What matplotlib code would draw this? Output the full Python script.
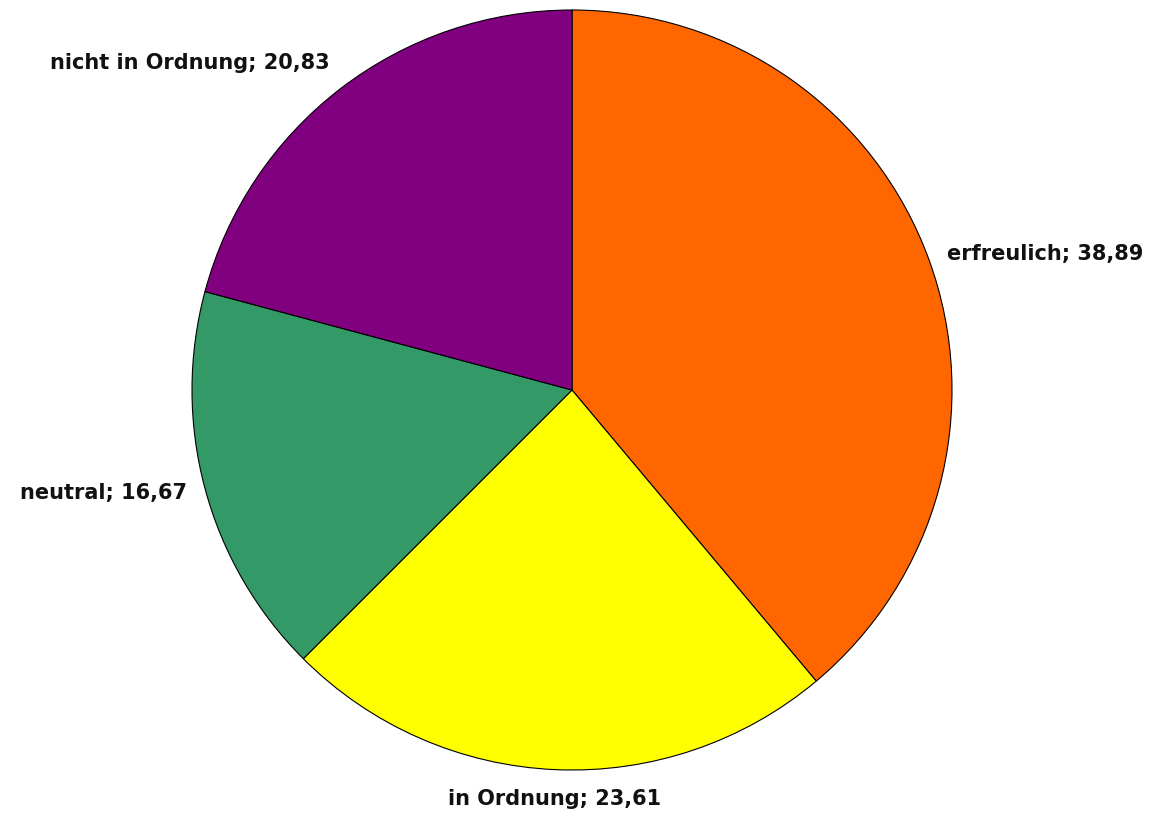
import numpy as np
import matplotlib
matplotlib.use("Agg")
import matplotlib.pyplot as plt

labels = ["erfreulich", "in Ordnung", "neutral", "nicht in Ordnung"]
values = [38.89, 23.61, 16.67, 20.83]
colors = ["#FF6600", "#FFFF00", "#339966", "#800080"]

fig = plt.figure(figsize=(11.55, 8.25), dpi=100)
ax = fig.add_axes([0, 0, 1, 1])

wedges, _ = ax.pie(values, colors=colors, startangle=90, counterclock=False,
                   radius=1.0, wedgeprops=dict(edgecolor="black", linewidth=0.8))

# pie centre at (572, 390) px, radius 380 px
r_px = 380.0
ax.set_aspect("auto")
ax.set_xlim(-572 / r_px, (1155 - 572) / r_px)
ax.set_ylim(-(825 - 390) / r_px, 390 / r_px)
ax.axis("off")

for w, lab, v in zip(wedges, labels, values):
    ang = np.deg2rad((w.theta1 + w.theta2) / 2)
    x, y = 1.05 * np.cos(ang), 1.05 * np.sin(ang)
    if abs(np.cos(ang)) < 0.15:
        ha = "center"
    elif x > 0:
        ha = "left"
    else:
        ha = "right"
    va = "center"
    if y < -0.95:
        va = "top"
    elif x < 0 and y > 0.5:
        va = "bottom"
    txt = f"{lab}; {v:.2f}".replace(".", ",")
    ax.text(x, y, txt, ha=ha, va=va, fontsize=15, fontweight="bold",
            family="DejaVu Sans", color="#111111")

fig.savefig("out.png", dpi=100)
